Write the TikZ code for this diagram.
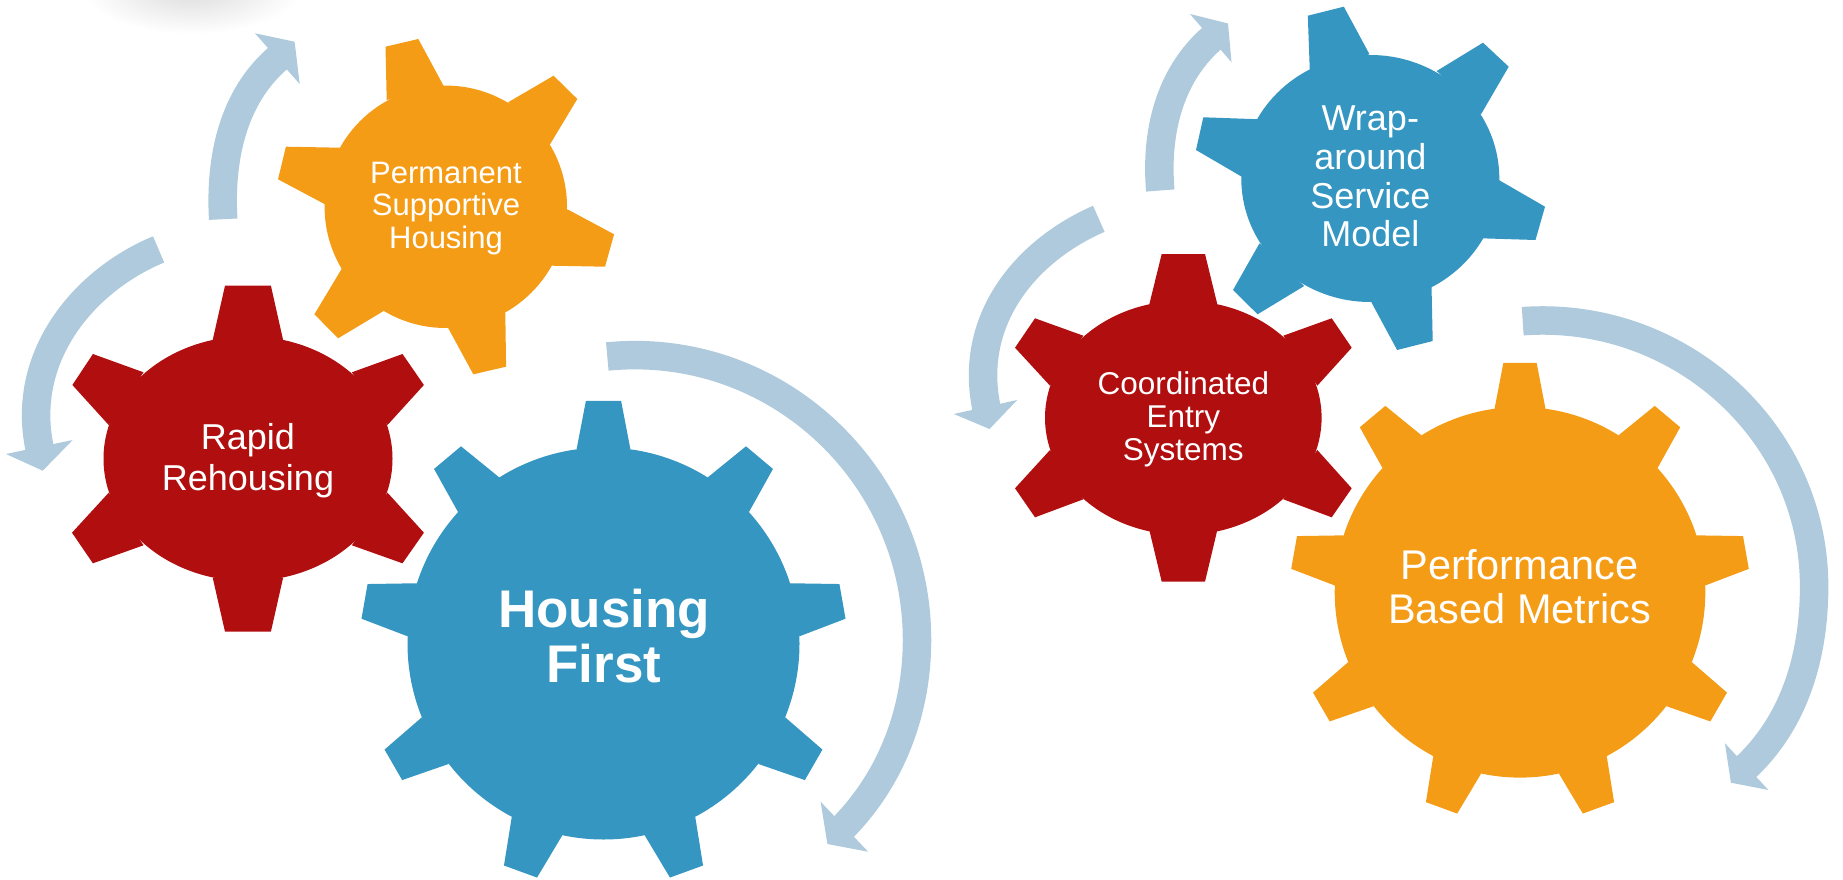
\documentclass[tikz,border=0pt]{standalone}
\usepackage{fontspec}
\setmainfont{Liberation Sans}
\definecolor{gorange}{HTML}{F59C16}
\definecolor{gred}{HTML}{B00E0F}
\definecolor{gblue}{HTML}{3596C2}
\definecolor{garrow}{HTML}{AECADC}
\newcommand\wrapgear[1]{%
  \path[#1] (1370.3,178.5) ellipse [x radius=129, y radius=123.5];
  \path[#1] (1309.8,71) -- (1307.8,15.7) -- (1343.8,6.7) -- (1369.5,54.3) -- cycle;
  \path[#1] (1436.7,71) -- (1483,42.7) -- (1508.7,66.7) -- (1481,114.3) -- cycle;
  \path[#1] (1498.8,180) -- (1545,206.7) -- (1535.5,240) -- (1481,238.3) -- cycle;
  \path[#1] (1431.5,285.7) -- (1432.7,341) -- (1397.1,350) -- (1371.4,302.3) -- cycle;
  \path[#1] (1304.2,286) -- (1257.6,314.3) -- (1233,290) -- (1259.5,243.3) -- cycle;
  \path[#1] (1241.7,176.7) -- (1196,150) -- (1203.3,117.3) -- (1260,119.3) -- cycle;
}
\begin{document}
\begin{tikzpicture}[x=1pt, y=-1pt,
  band/.style={draw=garrow, line width=28.5pt, shorten >=-2pt},
  head/.style={fill=garrow},
  lbl/.style={text=white, align=center, inner sep=0pt}]
\useasboundingbox (0,0) rectangle (1843,880);

% faint shadow at top
\shade[inner color=black!14, outer color=white] (192,-12) ellipse [x radius=110, y radius=46];

% ---------- arrows ----------
\draw[band] (158.6,249.4) .. controls (82.8,280.9) and (20.4,357.3) .. (39.2,446.3);
\fill[head] (6,454) -- (42.7,470.7) -- (72.7,440) -- cycle;

\draw[band] (223.2,219.2) .. controls (219.8,160.1) and (231.9,97.8) .. (276.8,59.2);
\fill[head] (255,33.3) -- (294.6,41.7) -- (299.7,84) -- cycle;

\draw[band] (607.3,356.5) .. controls (773.9,340.1) and (917,472.6) .. (917,640)
  .. controls (917,709) and (892.9,776.6) .. (844.6,825.9);
\fill[head] (820.6,801.7) -- (827.4,844) -- (868.1,851.7) -- cycle;

\draw[band] (1098.8,218.8) .. controls (1025.4,250.8) and (968.1,320.1) .. (986.1,406.3);
\fill[head] (953.9,414) -- (989.5,429) -- (1017.2,400) -- cycle;

\draw[band] (1160.3,190.5) .. controls (1155.4,134.1) and (1168.5,75.5) .. (1211.4,38.7);
\fill[head] (1190,14) -- (1228,23.5) -- (1231.5,62.3) -- cycle;

\draw[band] (1522.7,321.2) .. controls (1678.2,310) and (1814.1,430.7) .. (1814.1,586.7)
  .. controls (1814.1,653.4) and (1795.7,720.8) .. (1746.9,766.2);
\fill[head] (1724.9,743.3) -- (1730.9,782.7) -- (1768.4,790) -- cycle;

% ---------- gear A: Permanent Supportive Housing ----------
\fill[gorange] (445.8,206.8) circle [radius=121.2];
\fill[gorange] (386.7,100) -- (385.5,46.7) -- (418.3,39) -- (443.7,86) -- cycle;
\fill[gorange] (508.1,102.3) -- (553.6,75.7) -- (577.3,99) -- (549.6,145) -- cycle;
\fill[gorange] (567.4,209.3) -- (614.1,234.3) -- (605,266.7) -- (551.6,265.7) -- cycle;
\fill[gorange] (505.3,312.7) -- (506.1,366.7) -- (473.3,374.3) -- (448,327.7) -- cycle;
\fill[gorange] (383.6,311) -- (338.1,338.3) -- (314.4,314.3) -- (342,268.3) -- cycle;
\fill[gorange] (325,204.3) -- (278,179.3) -- (285.9,146.7) -- (340,147.7) -- cycle;

% ---------- gear B: Rapid Rehousing ----------
\fill[gred] (248,458.7) ellipse [x radius=144.5, y radius=122.4];
\fill[gred] (212.7,340) -- (225,285.7) -- (270.9,285.7) -- (283.1,340) -- cycle;
\fill[gred] (143.5,372.3) -- (92.9,354) -- (72.4,385) -- (108.7,425) -- cycle;
\fill[gred] (351.9,372.3) -- (402.5,354) -- (423.9,385) -- (387.5,425) -- cycle;
\fill[gred] (108.7,492.7) -- (72,532.7) -- (92.9,563.3) -- (143.5,545.3) -- cycle;
\fill[gred] (212.7,577.7) -- (225,631.7) -- (270.9,631.7) -- (283.1,577.7) -- cycle;
\fill[gred] (351.9,545.3) -- (402.5,563.3) -- (423.9,532.7) -- (387.5,492.7) -- cycle;

% ---------- gear C: Housing First ----------
\begin{scope}[shift={(603.5,643.5)}]
  \fill[gblue] (0,0) circle [radius=196];
  \foreach \a in {90,130,...,410}
    \fill[gblue] (-\a+7.9:196) -- (-\a+4.15:243.3) -- (-\a-4.15:243.3) -- (-\a-7.9:196) -- cycle;
\end{scope}

% ---------- gear D: Coordinated Entry Systems ----------
\fill[gred] (1183.3,417.8) ellipse [x radius=138.3, y radius=117.1];
\fill[gred] (1149.3,304.3) -- (1161.7,254) -- (1205,254) -- (1217.3,304.3) -- cycle;
\fill[gred] (1083.3,335.7) -- (1035,318.3) -- (1015,347.7) -- (1050,385.7) -- cycle;
\fill[gred] (1283.3,335.7) -- (1331.7,318.3) -- (1351.7,347.7) -- (1317.3,385.7) -- cycle;
\fill[gred] (1050,450) -- (1015,488.3) -- (1035,517.3) -- (1083.3,499.3) -- cycle;
\fill[gred] (1149.3,530) -- (1161.7,581.7) -- (1205,581.7) -- (1217.3,530) -- cycle;
\fill[gred] (1283.3,499.3) -- (1331.7,517.3) -- (1351.7,488.3) -- (1317.3,450) -- cycle;

% ---------- gear E: Wrap-around Service Model ----------
\wrapgear{draw=white, line width=6pt}
\wrapgear{fill=gblue}

% ---------- gear F: Performance Based Metrics ----------
\begin{scope}[shift={(1520,592.3)}]
  \fill[gorange] (0,0) circle [radius=185.3];
  \foreach \a in {90,130,...,410}
    \fill[gorange] (-\a+7.9:185.3) -- (-\a+4.15:230) -- (-\a-4.15:230) -- (-\a-7.9:185.3) -- cycle;
\end{scope}

% ---------- labels ----------
\node[lbl, font=\fontsize{31}{32.5}\selectfont] (psh) at (446,208.3) {Permanent\\Supportive\\Housing};
\node[lbl, font=\fontsize{36}{40.5}\selectfont] (rr) at (248,460.8) {Rapid\\Rehousing};
\node[lbl, font=\bfseries\fontsize{53}{55}\selectfont] (hf) at (604,636.3) {Housing\\First};
\node[lbl, font=\fontsize{31.5}{33.3}\selectfont] (ces) at (1183.3,419.5) {Coordinated\\Entry\\Systems};
\node[lbl, font=\fontsize{36}{38.7}\selectfont] (wsm) at (1370.3,176.7) {Wrap-\\around\\Service\\Model};
\node[lbl, font=\fontsize{41.5}{44}\selectfont] (pbm) at (1519.5,586.7) {Performance\\Based Metrics};
\end{tikzpicture}
\end{document}
